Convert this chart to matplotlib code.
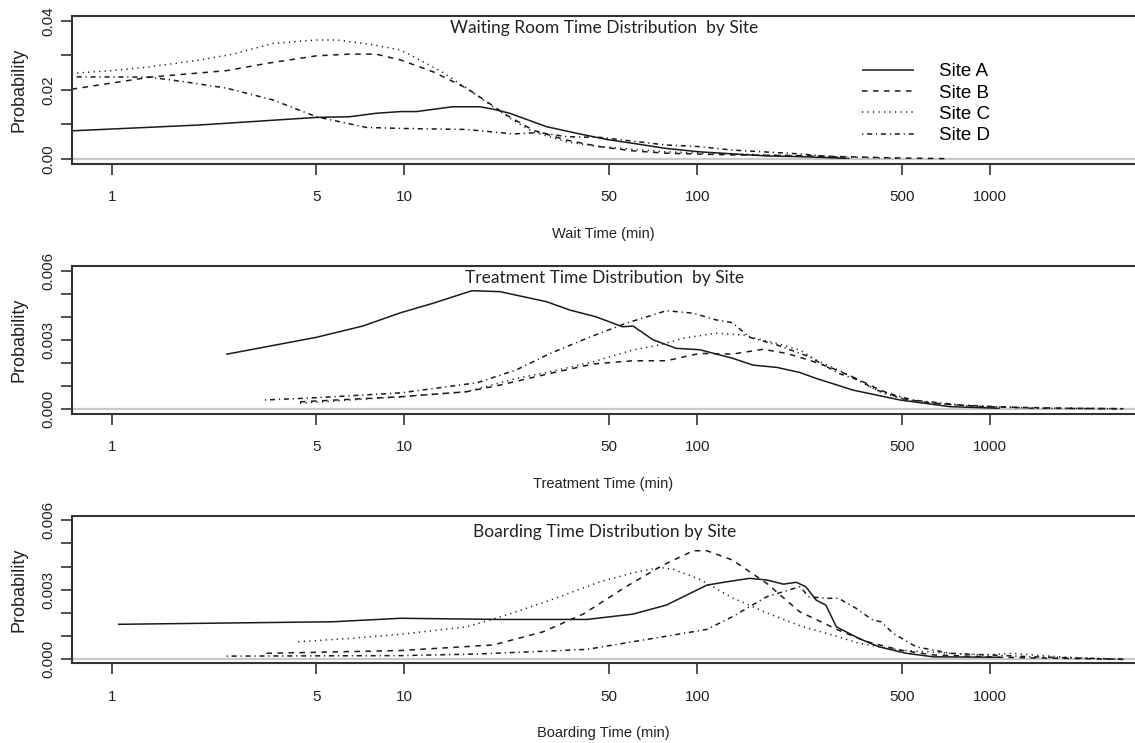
import numpy as np
import matplotlib
matplotlib.use("Agg")
import matplotlib.pyplot as plt

plt.rcParams['font.family'] = ['Liberation Sans', 'DejaVu Sans']

# ---- data (x in minutes, y = probability) ----
# waiting room
wait_a_x = [0.73, 2.0, 5.0, 6.5, 8.0, 9.7, 11.0, 14.6, 18.1, 20.1, 22.9, 30.6, 38.7, 49, 60, 78, 102, 132, 173, 224, 324]
wait_a_y = [0.0081, 0.0098, 0.0120, 0.0122, 0.0132, 0.0137, 0.0137, 0.0151, 0.0151, 0.0144, 0.0132, 0.0093, 0.0074,
            0.0056, 0.0045, 0.0030, 0.0020, 0.0014, 0.0008, 0.0006, 0.0001]
wait_b_x = [0.73, 1.35, 2.47, 3.38, 5.0, 6.5, 8.0, 9.7, 12.5, 16.3, 19.1, 22.3, 27.5, 35.8, 46.5, 60, 78, 132, 224, 493, 731]
wait_b_y = [0.0202, 0.0237, 0.0256, 0.0277, 0.0299, 0.0304, 0.0304, 0.0287, 0.0253, 0.0205, 0.0166, 0.0127, 0.0083,
            0.0054, 0.0035, 0.0023, 0.0016, 0.0011, 0.0009, 0.0002, 0.0]
wait_c_x = [0.73, 1.0, 1.35, 2.0, 2.6, 3.55, 5.0, 5.9, 7.8, 9.7, 11.0, 13.4, 16.3, 20.1, 23.5, 27.5, 35.8, 46.5, 78, 132, 224, 493]
wait_c_y = [0.0248, 0.0256, 0.0267, 0.0287, 0.0304, 0.0335, 0.0345, 0.0345, 0.0331, 0.0316, 0.0292, 0.0253, 0.0205,
            0.0151, 0.0112, 0.0078, 0.0049, 0.0035, 0.0020, 0.0014, 0.0008, 0.0001]
wait_d_x = [0.73, 1.35, 1.76, 2.47, 3.55, 5.0, 7.4, 9.7, 16.3, 23.5, 29.0, 35.8, 46.5, 78, 102, 132, 224, 331]
wait_d_y = [0.0238, 0.0237, 0.0224, 0.0205, 0.0171, 0.0122, 0.0091, 0.0088, 0.0085, 0.0072, 0.0076, 0.0064, 0.0062,
            0.0040, 0.0035, 0.0025, 0.0014, 0.0001]

# treatment
treat_a_x = [2.46, 5.0, 7.2, 9.7, 12.5, 17.0, 21.2, 30.6, 36.7, 45.2, 51.7, 55.7, 60.4, 70.7, 84.8, 102, 132, 155,
             187, 224, 255, 341, 493, 731, 1080]
treat_a_y = [0.00237, 0.00311, 0.00360, 0.00418, 0.00459, 0.00514, 0.00510, 0.00466, 0.00430, 0.00400, 0.00372,
             0.00357, 0.00360, 0.00300, 0.00263, 0.00257, 0.00220, 0.00190, 0.00180, 0.00158, 0.00132, 0.00081,
             0.00038, 0.00009, 0.00002]
treat_b_x = [4.4, 9.7, 16.3, 21.2, 31.5, 44.2, 60.4, 78.5, 102, 132, 168, 202, 241, 290, 349, 410, 493, 640, 945, 1830, 2860]
treat_b_y = [0.00030, 0.00052, 0.00074, 0.00103, 0.00154, 0.00195, 0.00209, 0.00209, 0.00241, 0.00238, 0.00259,
             0.00241, 0.00212, 0.00176, 0.00132, 0.00089, 0.00045, 0.00024, 0.00009, 0.00002, 0.0]
treat_c_x = [4.4, 9.7, 16.3, 24.1, 31.5, 44.2, 60.4, 74.6, 89.6, 116, 144, 158, 187, 224, 255, 331, 380, 431, 560,
             830, 1400, 2860]
treat_c_y = [0.00024, 0.00052, 0.00074, 0.00132, 0.00161, 0.00205, 0.00256, 0.00278, 0.00307, 0.00329, 0.00321,
             0.00307, 0.00285, 0.00256, 0.00212, 0.00146, 0.00103, 0.00067, 0.00030, 0.00012, 0.00003, 0.0]
treat_d_x = [3.34, 5.0, 9.7, 17.7, 24.1, 31.5, 42, 57.1, 78.5, 97, 116, 132, 151, 187, 241, 304, 355, 410, 545,
             790, 1400, 2860]
treat_d_y = [0.00038, 0.00048, 0.00069, 0.00113, 0.00169, 0.00241, 0.00307, 0.00372, 0.00427, 0.00416, 0.00387,
             0.00375, 0.00311, 0.00278, 0.00227, 0.00154, 0.00125, 0.00081, 0.00038, 0.00016, 0.00002, 0.0]

# boarding
board_a_x = [1.05, 5.7, 9.7, 21.2, 42, 60.4, 78.5, 108, 126, 151, 173, 197, 218, 235, 255, 275, 299, 357, 418,
             518, 640, 1080]
board_a_y = [0.00151, 0.00162, 0.00177, 0.00172, 0.00172, 0.00195, 0.00234, 0.00320, 0.00334, 0.00349, 0.00342,
             0.00324, 0.00332, 0.00313, 0.00255, 0.00234, 0.00140, 0.00090, 0.00054, 0.00026, 0.00011, 0.00009]
board_b_x = [3.38, 9.7, 20.1, 29.8, 40.8, 57.1, 76.4, 97, 108, 132, 173, 224, 304, 380, 493, 640, 1080, 2860]
board_b_y = [0.00026, 0.00038, 0.00062, 0.00119, 0.00195, 0.00313, 0.00406, 0.00468, 0.00468, 0.00428, 0.00327,
             0.00205, 0.00126, 0.00076, 0.00040, 0.00019, 0.00009, 0.0]
board_c_x = [4.34, 6.5, 9.7, 16.3, 22.3, 31.5, 46.5, 60.4, 74.6, 83, 102, 132, 173, 224, 304, 357, 493, 731, 945,
             1200, 1400, 1830, 2860]
board_c_y = [0.00076, 0.00090, 0.00108, 0.00140, 0.00191, 0.00255, 0.00334, 0.00373, 0.00396, 0.00388, 0.00345,
             0.00265, 0.00200, 0.00145, 0.00097, 0.00069, 0.00040, 0.00026, 0.00019, 0.00026, 0.00019, 0.00009, 0.0]
board_d_x = [2.47, 9.7, 17.7, 27.5, 42, 60.4, 89.6, 108, 132, 173, 224, 241, 275, 304, 349, 398, 425, 467, 560,
             731, 1400, 2860]
board_d_y = [0.00014, 0.00016, 0.00023, 0.00033, 0.00043, 0.00076, 0.00112, 0.00129, 0.00184, 0.00270, 0.00313,
             0.00270, 0.00263, 0.00263, 0.00220, 0.00169, 0.00162, 0.00112, 0.00054, 0.00026, 0.00011, 0.0]

sites = ["Site A", "Site B", "Site C", "Site D"]
xticks = [1, 5, 10, 50, 100, 500, 1000]

styles = [(0, ()), (0, (3.6, 3.6)), (0, (0.8, 2.8)), (0, (0.8, 2.5, 3.3, 2.5))]

panels = [
    dict(series=[(wait_a_x, wait_a_y), (wait_b_x, wait_b_y), (wait_c_x, wait_c_y), (wait_d_x, wait_d_y)],
         title="Waiting Room Time Distribution  by Site", xlabel="Wait Time (min)",
         ylim=(-0.00154, 0.04148), yticks=np.arange(0, 0.0401, 0.01), ylabels=["0.00", "", "0.02", "", "0.04"],
         rect=[72/1135, 1-164/743, 1-72/1135, 148/743], ty=0.922),
    dict(series=[(treat_a_x, treat_a_y), (treat_b_x, treat_b_y), (treat_c_x, treat_c_y), (treat_d_x, treat_d_y)],
         title="Treatment Time Distribution  by Site", xlabel="Treatment Time (min)",
         ylim=(-0.00023, 0.00623), yticks=np.arange(0, 0.00601, 0.001),
         ylabels=["0.000", "", "", "0.003", "", "", "0.006"],
         rect=[72/1135, 1-414/743, 1-72/1135, 148.3/743], ty=0.92),
    dict(series=[(board_a_x, board_a_y), (board_b_x, board_b_y), (board_c_x, board_c_y), (board_d_x, board_d_y)],
         title="Boarding Time Distribution by Site", xlabel="Boarding Time (min)",
         ylim=(-0.00017, 0.00619), yticks=np.arange(0, 0.00601, 0.001),
         ylabels=["0.000", "", "", "0.003", "", "", "0.006"],
         rect=[72/1135, 1-663.3/743, 1-72/1135, 147.6/743], ty=0.888),
]

fig = plt.figure(figsize=(11.35, 7.43), dpi=100)

for i, p in enumerate(panels):
    ax = fig.add_axes(p["rect"])
    ax.axhline(0, color="#c8c8c8", lw=1.6, zorder=1)
    for (xs, ys), ls, name in zip(p["series"], styles, sites):
        ax.plot(xs, ys, color="#1a1a1a", lw=1.1, linestyle=ls, label=name, zorder=2)
    ax.set_xscale("log")
    ax.set_xlim(0.732, 3130)
    ax.set_ylim(*p["ylim"])
    ax.set_xticks(xticks)
    ax.set_xticklabels([str(t) for t in xticks])
    ax.xaxis.set_minor_locator(matplotlib.ticker.NullLocator())
    ax.set_yticks(p["yticks"])
    ax.set_yticklabels(p["ylabels"], rotation=90, va="center")
    ax.tick_params(axis="both", direction="out", length=8, width=1.2, color="#333333",
                   labelsize=11, labelcolor="#222222")
    ax.tick_params(axis="x", pad=11)
    ax.tick_params(axis="y", pad=4)
    for s in ["left", "top", "bottom"]:
        ax.spines[s].set_linewidth(1.5)
        ax.spines[s].set_color("#333333")
    ax.spines["right"].set_visible(False)
    ax.set_xlabel(p["xlabel"], fontsize=10.5, color="#222222")
    ax.xaxis.set_label_coords(0.5, -0.425)
    ax.set_ylabel("Probability", fontsize=13, color="#222222")
    ax.yaxis.set_label_coords(-0.042, 0.5)
    ax.text(0.501, p["ty"], p["title"], transform=ax.transAxes, ha="center", va="center",
            fontsize=12.5, family=["Lato", "DejaVu Sans"], color="#222222")
    if i == 0:
        ax.legend(loc="upper left", bbox_to_anchor=(0.743, 0.68), frameon=False, fontsize=13.5,
                  handlelength=2.8, handletextpad=1.3, labelspacing=0.22, borderpad=0, borderaxespad=0)

fig.savefig("out.png", dpi=100)
